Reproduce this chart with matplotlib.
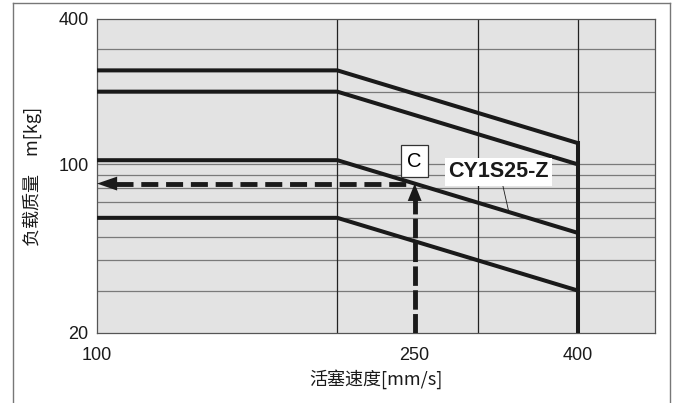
import matplotlib

matplotlib.use("Agg")
import matplotlib.pyplot as plt
from matplotlib.lines import Line2D

# speed [mm/s] and load [kg] for each limit line
speed_pts = [100, 200, 400]
load_lines = [
    [245, 245, 122.5],
    [200, 200, 100],
    [104, 104, 52],
    [60, 60, 30],
]
x_ticks = [100, 250, 400]
y_ticks = [20, 100, 400]
x_grid = [200, 300, 400]
y_grid = [30, 40, 50, 60, 70, 80, 90, 100, 200, 300]
sel_speed = 250
sel_load = 104 * 200 / 250
model_name = "CY1S25-Z"

W, H = 678, 403
fig = plt.figure(figsize=(W / 100, H / 100), dpi=100)
ax = fig.add_axes([97 / W, 1 - 333 / H, (655 - 97) / W, (333 - 19) / H])
ax.set_xscale("log")
ax.set_yscale("log")
ax.set_xlim(100, 500)
ax.set_ylim(20, 400)
ax.set_facecolor("#e3e3e3")

for y in y_grid:
    ax.axhline(y, color="#7a7a7a", lw=0.9, zorder=1)
for x in x_grid:
    ax.axvline(x, color="#222222", lw=0.9, zorder=1)

for loads in load_lines:
    ax.plot(speed_pts, loads, color="#1a1a1a", lw=2.9, solid_capstyle="butt", zorder=4)
# speed limit at 400 mm/s
ax.plot([400, 400], [20, load_lines[0][-1]], color="#1a1a1a", lw=2.9, zorder=4)

# dashed selection arrows
ax.plot([sel_speed, sel_speed], [20, sel_load * 0.87], color="#1a1a1a", lw=3.5,
        dashes=(4.0, 0.9), zorder=5)
ax.annotate("", xy=(sel_speed, sel_load), xytext=(sel_speed, sel_load * 0.84),
            arrowprops=dict(arrowstyle="-|>,head_length=1.25,head_width=0.5",
                            color="#1a1a1a", lw=0, shrinkA=0, shrinkB=0), zorder=6)
ax.plot([105.5, sel_speed], [sel_load, sel_load], color="#1a1a1a", lw=3.5,
        dashes=(3.5, 1.6), zorder=5)
ax.annotate("", xy=(100, sel_load), xytext=(106.5, sel_load),
            arrowprops=dict(arrowstyle="-|>,head_length=1.45,head_width=0.5",
                            color="#1a1a1a", lw=0, shrinkA=0, shrinkB=0), zorder=6)

ax.text(sel_speed, sel_load * 1.24, "C", fontsize=14.5, ha="center", va="center",
        family="Liberation Sans", zorder=7,
        bbox=dict(boxstyle="square,pad=0.3", facecolor="white", edgecolor="#333333", lw=0.9))
ax.annotate(model_name, xy=(328, 104 * 200 / 328), xytext=(318, 93),
            fontsize=15.5, fontweight="bold", family="Liberation Sans", color="#1a1a1a",
            ha="center", va="center", zorder=7,
            bbox=dict(boxstyle="square,pad=0.15", facecolor="white", edgecolor="none"),
            arrowprops=dict(arrowstyle="-", color="#1a1a1a", lw=0.6,
                            shrinkA=0, shrinkB=0, relpos=(0.54, 0.0)))

ax.set_xticks(x_ticks)
ax.set_xticklabels([str(v) for v in x_ticks])
ax.set_yticks(y_ticks)
ax.set_yticklabels([str(v) for v in y_ticks])
ax.minorticks_off()
ax.tick_params(length=0, labelsize=13, colors="#1a1a1a")
ax.tick_params(axis="x", pad=10)
ax.tick_params(axis="y", pad=6)
for lab in ax.get_xticklabels() + ax.get_yticklabels():
    lab.set_family("Liberation Sans")
for sp in ax.spines.values():
    sp.set_color("#555555")
    sp.set_linewidth(0.9)

cjk = ["Noto Sans CJK SC", "DejaVu Sans"]
ax.set_xlabel("活塞速度[mm/s]", family=cjk, fontsize=13, labelpad=4, color="#1a1a1a")
ax.set_ylabel("负载质量　m[kg]", family=cjk, fontsize=13, labelpad=12, color="#1a1a1a")

# outer frame
frame_kw = dict(color="#777777", lw=1.0, transform=fig.transFigure)
fig.add_artist(Line2D([13 / W, 670 / W], [1 - 3 / H, 1 - 3 / H], **frame_kw))
fig.add_artist(Line2D([13 / W, 13 / W], [0, 1 - 3 / H], **frame_kw))
fig.add_artist(Line2D([670 / W, 670 / W], [0, 1 - 3 / H], **frame_kw))

fig.savefig("out.png", dpi=100)
